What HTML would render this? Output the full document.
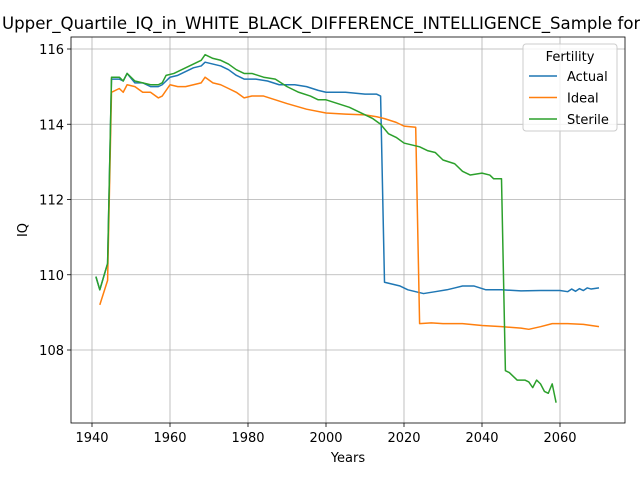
<!DOCTYPE html>
<html><head><meta charset="utf-8"><style>
body{margin:0;background:#fff;font-family:"DejaVu Sans","Liberation Sans",sans-serif}
svg text{font-family:"DejaVu Sans","Liberation Sans",sans-serif}
</style></head><body>
<svg id="chart" width="640" height="480" xmlns="http://www.w3.org/2000/svg">
<text x="2" y="29" font-size="16.6" fill="#000">Upper_Quartile_IQ_in_WHITE_BLACK_DIFFERENCE_INTELLIGENCE_Sample for Fertility</text>
<g id="grid"></g><g id="series"></g><g id="axes"></g>
</svg>
<script>
const actualYears=[1941,1942,1944,1945,1947,1948,1949,1951,1953,1955,1957,1958,1960,1962,1964,1966,1968,1969,1971,1973,1975,1977,1979,1982,1985,1988,1992,1995,1998,2000,2005,2010,2013,2014,2015,2017,2019,2021,2023,2025,2028,2031,2033,2035,2038,2041,2045,2050,2055,2060,2062,2063,2064,2065,2066,2067,2068,2070];
const actualVals=[109.95,109.6,110.3,115.2,115.2,115.15,115.35,115.1,115.1,115.0,115.0,115.05,115.25,115.3,115.4,115.5,115.55,115.65,115.6,115.55,115.45,115.3,115.2,115.2,115.15,115.05,115.05,115.0,114.9,114.85,114.85,114.8,114.8,114.75,109.8,109.75,109.7,109.6,109.55,109.5,109.55,109.6,109.65,109.7,109.7,109.6,109.6,109.57,109.58,109.58,109.55,109.62,109.56,109.63,109.58,109.65,109.62,109.65];
const idealYears=[1942,1944,1945,1947,1948,1949,1951,1953,1955,1957,1958,1960,1962,1964,1966,1968,1969,1971,1973,1975,1977,1979,1981,1984,1987,1990,1995,2000,2005,2010,2013,2015,2018,2020,2023,2024,2027,2030,2035,2040,2045,2050,2052,2055,2058,2062,2066,2070];
const idealVals=[109.2,109.85,114.85,114.95,114.85,115.05,115.0,114.85,114.85,114.7,114.75,115.05,115.0,115.0,115.05,115.1,115.25,115.1,115.05,114.95,114.85,114.7,114.75,114.75,114.65,114.55,114.4,114.3,114.27,114.25,114.2,114.15,114.05,113.95,113.92,108.7,108.72,108.7,108.7,108.65,108.62,108.58,108.55,108.62,108.7,108.7,108.68,108.62];
const sterileYears=[1941,1942,1944,1945,1947,1948,1949,1951,1953,1955,1957,1958,1959,1961,1964,1966,1968,1969,1971,1973,1975,1977,1979,1981,1984,1987,1990,1993,1996,1998,2000,2003,2006,2009,2012,2014,2016,2018,2020,2022,2024,2026,2028,2030,2033,2035,2037,2040,2042,2043,2045,2046,2047,2049,2051,2052,2053,2054,2055,2056,2057,2058,2059];
const sterileVals=[109.95,109.6,110.3,115.25,115.25,115.15,115.35,115.15,115.1,115.05,115.05,115.1,115.3,115.35,115.5,115.6,115.7,115.85,115.75,115.7,115.6,115.45,115.35,115.35,115.25,115.2,115.0,114.85,114.75,114.65,114.65,114.55,114.45,114.3,114.15,114.0,113.75,113.65,113.5,113.45,113.4,113.3,113.25,113.05,112.95,112.75,112.65,112.7,112.65,112.55,112.55,107.45,107.4,107.2,107.2,107.15,107.0,107.2,107.1,106.9,106.85,107.1,106.6];
const xTicks=[1940,1960,1980,2000,2020,2040,2060];
const yTicks=[108,110,112,114,116];
const seriesNames=["Actual","Ideal","Sterile"];
const colors=["#1f77b4","#ff7f0e","#2ca02c"];

const L=71,R=625,T=37,B=423;
const xS=y=>92+(y-1940)*3.9;
const yS=v=>49+(116-v)*37.625;
const NS="http://www.w3.org/2000/svg";
function mk(tag,attrs,parent){const e=document.createElementNS(NS,tag);for(const k in attrs)e.setAttribute(k,attrs[k]);parent.appendChild(e);return e;}
const grid=document.getElementById('grid'),axes=document.getElementById('axes'),ser=document.getElementById('series');
xTicks.forEach(t=>{const x=xS(t);
 const g=mk('line',{x1:x,x2:x,y1:T,y2:B,stroke:'#b0b0b0','stroke-width':0.8},grid);
 
 
 mk('line',{x1:x,x2:x,y1:B,y2:B+4,stroke:'#000','stroke-width':0.8},axes);
 const tx=mk('text',{x:x,y:B+19,'font-size':13,'text-anchor':'middle'},axes);tx.textContent=t;
 
 });
yTicks.forEach(t=>{const y=yS(t);
 const g=mk('line',{x1:L,x2:R,y1:y,y2:y,stroke:'#b0b0b0','stroke-width':0.8},grid);
 
 
 mk('line',{x1:L-4,x2:L,y1:y,y2:y,stroke:'#000','stroke-width':0.8},axes);
 const tx=mk('text',{x:L-7,y:y+5,'font-size':13,'text-anchor':'end'},axes);tx.textContent=t;
 
 });
const fr=mk('rect',{x:L,y:T,width:R-L,height:B-T,fill:'none',stroke:'#000','stroke-width':0.8},axes);


const xl=mk('text',{x:(L+R)/2,y:462,'font-size':13,'text-anchor':'middle'},axes);xl.textContent='Years';


const yl=mk('text',{x:27,y:(T+B)/2,'font-size':13,'text-anchor':'middle',transform:`rotate(-90 27 ${(T+B)/2})`},axes);yl.textContent='IQ';


const data=[[actualYears,actualVals],[idealYears,idealVals],[sterileYears,sterileVals]];
data.forEach((d,i)=>{const pts=d[0].map((yr,j)=>xS(yr)+','+yS(d[1][j])).join(' ');
 const p=mk('polyline',{points:pts,fill:'none',stroke:colors[i],'stroke-width':1.5,'stroke-linejoin':'round'},ser);
 
 });
// legend
const lg=mk('g',{},axes);


mk('rect',{x:523,y:44,width:94,height:87,rx:3,fill:'#fff','fill-opacity':0.8,stroke:'#ccc'},lg);
const lt=mk('text',{x:570,y:61,'font-size':13,'text-anchor':'middle'},lg);lt.textContent='Fertility';
seriesNames.forEach((n,i)=>{const y=76+i*21.5;
 const e=mk('g',{},lg);
 
 
 mk('line',{x1:529,x2:557,y1:y,y2:y,stroke:colors[i],'stroke-width':1.5},e);
 const t=mk('text',{x:567,y:y+5,'font-size':13},e);t.textContent=n;});
</script>
</body></html>
